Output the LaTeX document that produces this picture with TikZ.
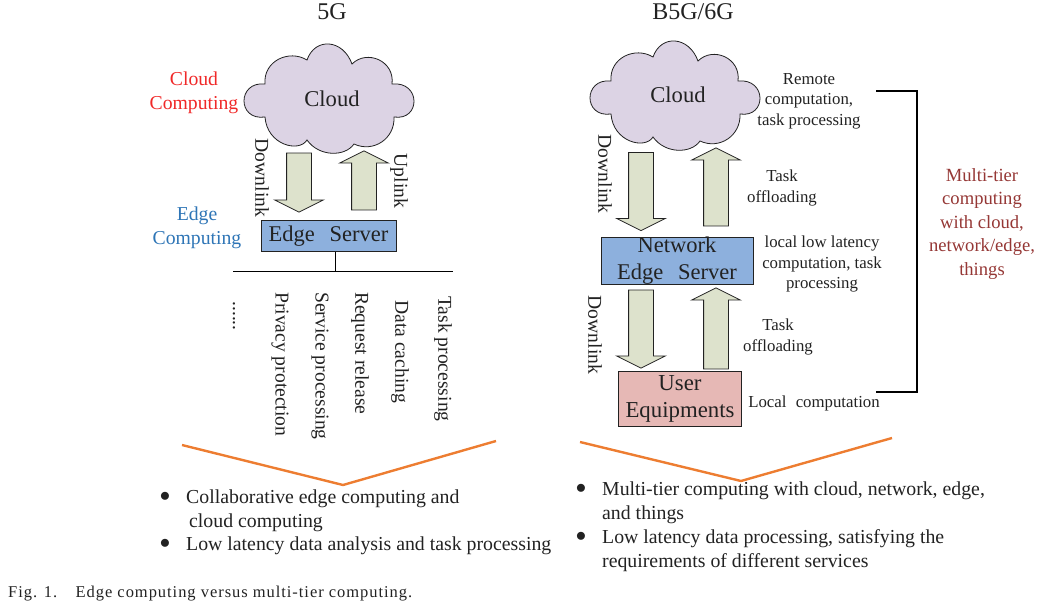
\documentclass[tikz,border=0pt]{standalone}
\usepackage{fontspec}
\setmainfont{Liberation Serif}
\usetikzlibrary{shapes, arrows, calc, positioning}
\definecolor{cloudlilac}{HTML}{DCD3E4}
\definecolor{serverblue}{HTML}{8DB0DD}
\definecolor{userpink}{HTML}{E6B8B5}
\definecolor{arrowsage}{HTML}{DDE2CC}
\definecolor{cloudred}{HTML}{F02828}
\definecolor{edgeblue}{HTML}{2E75B6}
\definecolor{tierred}{HTML}{953735}
\definecolor{chevron}{HTML}{ED7D31}
\definecolor{inkgrey}{HTML}{222222}
\newcommand{\cloudoutline}{(-64,-13) .. controls (-92,-16) and (-92,24) .. (-64,20)
    .. controls (-62,48) and (-30,56) .. (-22,43)
    .. controls (-10,60) and (16,60) .. (25,47)
    .. controls (44,56) and (66,42) .. (65,20)
    .. controls (92,24) and (92,-16) .. (63,-13)
    .. controls (66,-36) and (38,-48) .. (23,-33)
    .. controls (14,-58) and (-14,-60) .. (-22,-37)
    .. controls (-40,-48) and (-66,-36) .. (-64,-13) -- cycle}
\tikzset{
    x=1pt, y=-1pt,
    every node/.style={font=\fontsize{19.6}{24}\selectfont, text=inkgrey, inner sep=0pt, align=center},
    small/.style={font=\fontsize{16.8}{20.5}\selectfont},
    bulletline/.style={font=\fontsize{19.8}{24}\selectfont, anchor=west},
    server/.style={draw=inkgrey, thick, fill=serverblue, font=\fontsize{22.5}{27}\selectfont},
    users/.style={draw=inkgrey, thick, fill=userpink, font=\fontsize{22.8}{27}\selectfont},
    downarrow/.style={single arrow, draw=inkgrey, thick, fill=arrowsage, inner sep=12pt, single arrow head extend=12pt, single arrow tip angle=127, shape border rotate=270, anchor=center},
    uparrow/.style={downarrow, shape border rotate=90},
    heading/.style={font=\fontsize{24}{28}\selectfont},
    vtext/.style={rotate=-90}
}
\begin{document}
\begin{tikzpicture}
    \useasboundingbox (0,0) rectangle (1044,608);

    % left column
    \node[heading] (title5g) at (332,12) {5G};
    \draw[fill=cloudlilac, draw=inkgrey, thick, shift={(329,97)}] \cloudoutline;
    \node[font=\fontsize{22.6}{26}\selectfont] (cloudL) at (332,99) {Cloud};
    \node[text=cloudred, font=\fontsize{19.7}{24.5}\selectfont] (cloudcomp) at (194,93) {Cloud\\Computing};
    \node[text=edgeblue, font=\fontsize{19.7}{24.5}\selectfont] (edgecomp) at (197,228) {Edge\\Computing};
    \node[downarrow, minimum height=59pt] (downL) at (299,179.5) {};
    \node[uparrow, minimum height=59pt] (upL) at (364,183.5) {};
    \node[vtext] (downlabelL) at (262,178) {Downlink};
    \node[vtext] (uplabelL) at (399,181) {Uplink};
    \node[server, minimum width=135pt, minimum height=31pt] (serverL) at (328.5,236) {\raisebox{-4pt}{Edge\hspace{0.4em} Server}};
    \coordinate (busL) at (233,271);
    \coordinate (busR) at (453,271);
    \draw[thick] (busL) -- (busR);
    \draw[thick] (serverL.south -| 335,0) -- (335,271);
    \node[vtext, anchor=west] (privacy) at (280,292) {Privacy protection};
    \node[vtext, anchor=west] (service) at (320,292) {Service processing};
    \node[vtext, anchor=west] (request) at (360,292) {Request release};
    \node[vtext, anchor=west] (caching) at (400,300) {Data caching};
    \node[vtext, anchor=west] (tasks) at (443,296) {Task processing};
    \node[vtext] (dots) at (234,316) {......};
    \coordinate (chevLa) at (182,445);
    \coordinate (chevLb) at (343,485);
    \coordinate (chevLc) at (496,441);
    \draw[chevron, line width=2.4pt] (chevLa) -- (chevLb) -- (chevLc);
    \node[bulletline] (itemLa) at (186,499) {Collaborative edge computing and};
    \node[bulletline] (itemLb) at (189,523) {cloud computing};
    \node[bulletline] (itemLc) at (186,546) {Low latency data analysis and task processing};
    \node (bulLa) at (165,497) {$\bullet$};
    \node (bulLb) at (165,544) {$\bullet$};

    % right column
    \node[heading] (title6g) at (693,12) {B5G/6G};
    \draw[fill=cloudlilac, draw=inkgrey, thick, shift={(675,94)}] \cloudoutline;
    \node[font=\fontsize{22.6}{26}\selectfont] (cloudR) at (678,95) {Cloud};
    \node[small] (remote) at (809,101) {Remote\\computation,\\task processing};
    \node[downarrow, minimum height=78pt] (downRa) at (641,188.5) {};
    \node[uparrow, minimum height=78pt] (upRa) at (716,190) {};
    \node[vtext] (downlabelRa) at (605,174) {Downlink};
    \node[small] (offloadRa) at (782,188) {Task\\offloading};
    \node[server, minimum width=152pt, minimum height=45pt] (serverR) at (677,261) {\raisebox{-3pt}{\shortstack{Network\\[8pt]Edge\hspace{0.4em} Server}}};
    \node[small] (locallow) at (822,264) {local low latency\\computation, task\\processing};
    \node[downarrow, minimum height=78pt] (downRb) at (641,326) {};
    \node[uparrow, minimum height=81pt] (upRb) at (716,331.5) {};
    \node[vtext] (downlabelRb) at (595,335) {Downlink};
    \node[small] (offloadRb) at (778,337) {Task\\offloading};
    \node[users, minimum width=123pt, minimum height=55pt] (userR) at (680,399) {\raisebox{-5pt}{\shortstack{User\\[8pt]Equipments}}};
    \node[small] (localcomp) at (814,403) {Local\hspace{0.3em} computation};
    \coordinate (bracketT) at (876,91);
    \coordinate (bracketB) at (876,392);
    \draw[line width=1.4pt] (bracketT) -- (917,91) -- (917,392) -- (bracketB);
    \node[text=tierred, font=\fontsize{18.6}{23.5}\selectfont] (multitier) at (982,224) {Multi-tier\\computing\\with cloud,\\network/edge,\\things};
    \coordinate (chevRa) at (580,442);
    \coordinate (chevRb) at (741,481);
    \coordinate (chevRc) at (892,438);
    \draw[chevron, line width=2.4pt] (chevRa) -- (chevRb) -- (chevRc);
    \node[bulletline] (itemRa) at (602,491) {Multi-tier computing with cloud, network, edge,};
    \node[bulletline] (itemRb) at (602,515) {and things};
    \node[bulletline] (itemRc) at (602,539) {Low latency data processing, satisfying the};
    \node[bulletline] (itemRd) at (602,563) {requirements of different services};
    \node (bulRa) at (581,489) {$\bullet$};
    \node (bulRb) at (581,537) {$\bullet$};

    \node[anchor=west, font=\addfontfeatures{LetterSpace=5.8}\fontsize{16.5}{20}\selectfont] (caption) at (8,594) {Fig. 1.\hspace{0.7em} Edge computing versus multi-tier computing.};
\end{tikzpicture}
\end{document}
